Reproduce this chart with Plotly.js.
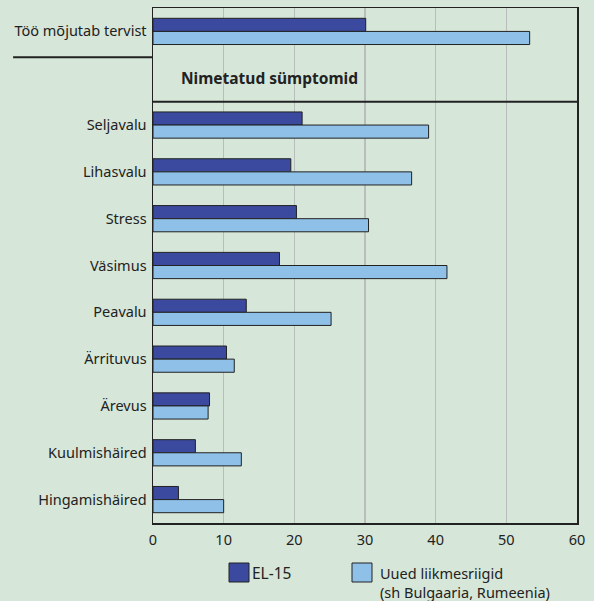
<!DOCTYPE html>
<html><head><meta charset="utf-8">
<script src="https://cdn.plot.ly/plotly-3.0.1.min.js"></script>
<style>html,body{margin:0;padding:0;background:#d6e6d8;}</style>
</head><body>
<div id="chart" style="width:594px;height:601px;"></div>
<script>
// Category slots top to bottom ("" = section header slot)
const categories = ["Töö mõjutab tervist", "", "Seljavalu", "Lihasvalu", "Stress", "Väsimus", "Peavalu", "Ärrituvus", "Ärevus", "Kuulmishäired", "Hingamishäired"];
const el15 = [30.1, null, 21.1, 19.5, 20.3, 17.9, 13.2, 10.4, 8.0, 6.0, 3.6];
const newMembers = [53.3, null, 39.0, 36.6, 30.5, 41.6, 25.2, 11.5, 7.8, 12.5, 10.0];
const seriesNames = ["EL-15", "Uued liikmesriigid<br>(sh Bulgaaria, Rumeenia)"];
const sectionHeader = "Nimetatud sümptomid";
const xTicks = [0, 10, 20, 30, 40, 50, 60];

const pos = categories.map((c, i) => i);
const dark = "#3b4a9e", light = "#8fc0e8", bg = "#d6e6d8", ink = "#222222";
const font = {family: "Noto Sans, Open Sans, sans-serif", size: 14, color: ink};

const traces = [
  {type: "bar", orientation: "h", name: seriesNames[0], y: pos, x: el15,
   marker: {color: dark, line: {color: ink, width: 1}}, hoverinfo: "x"},
  {type: "bar", orientation: "h", name: seriesNames[1], y: pos, x: newMembers,
   marker: {color: light, line: {color: ink, width: 1}}, hoverinfo: "x"}
];

const H = 515, W = 424;
const layout = {
  width: 594, height: 601,
  margin: {l: 153, r: 17, t: 8, b: 78},
  paper_bgcolor: bg, plot_bgcolor: bg,
  font: font,
  barmode: "group", bargap: 0.44, bargroupgap: 0,
  showlegend: false,
  xaxis: {range: [0, 60], tickvals: xTicks, showgrid: true, gridcolor: "#b9bdbb", gridwidth: 1.5,
          zeroline: false, showline: true, linecolor: ink, linewidth: 1.5, mirror: true,
          ticks: "", ticklabelstandoff: 3, tickfont: {size: 14.5, color: ink}, fixedrange: true},
  yaxis: {range: [10.5, -0.5], tickvals: pos, ticktext: categories, showgrid: false,
          zeroline: false, showline: true, linecolor: ink, linewidth: 1.5, mirror: true,
          ticks: "", ticklabelstandoff: 2, tickfont: {size: 14.5, color: ink}, fixedrange: true},
  shapes: [
    {type: "line", xref: "paper", yref: "y", x0: 0, x1: 1, y0: 1.5, y1: 1.5, line: {color: ink, width: 2}},
    {type: "line", xref: "paper", yref: "y", x0: -0.33, x1: 0, y0: 0.55, y1: 0.55, line: {color: ink, width: 2}},
    {type: "rect", xref: "paper", yref: "paper", x0: 76/W, x1: 96/W, y0: -40/H, y1: -59/H,
     fillcolor: dark, line: {color: ink, width: 1}},
    {type: "rect", xref: "paper", yref: "paper", x0: 199/W, x1: 219/W, y0: -40/H, y1: -59/H,
     fillcolor: light, line: {color: ink, width: 1}}
  ],
  annotations: [
    {xref: "paper", yref: "y", x: 26/W, y: 1, text: "<b>" + sectionHeader + "</b>", showarrow: false,
     xanchor: "left", yanchor: "middle", font: {size: 15.5, color: ink}},
    {xref: "paper", yref: "paper", x: 98/W, y: -49.5/H, text: seriesNames[0], showarrow: false,
     xanchor: "left", yanchor: "middle", borderpad: 0, font: {size: 15.5, color: ink}},
    {xref: "paper", yref: "paper", x: 226/W, y: -38.5/H, text: seriesNames[1], showarrow: false,
     xanchor: "left", yanchor: "top", align: "left", borderpad: 0, font: {size: 14.5, color: ink}}
  ]
};

Plotly.newPlot("chart", traces, layout, {displayModeBar: false, staticPlot: true});
</script>
</body></html>
